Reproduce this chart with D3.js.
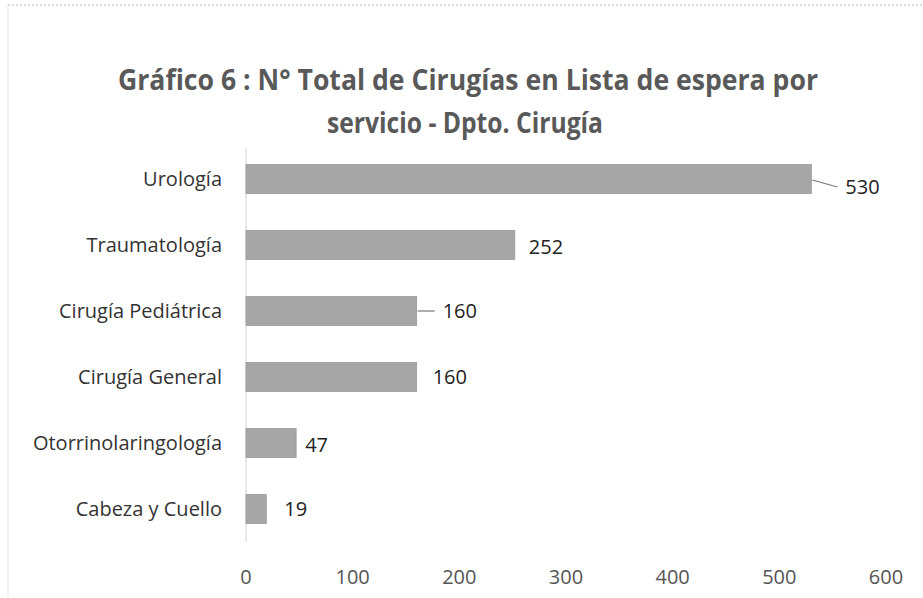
<!DOCTYPE html>
<html><head><meta charset="utf-8">
<script src="https://cdn.jsdelivr.net/npm/d3@7"></script>
<style>body{margin:0;background:#fff}svg{display:block}</style>
</head><body><svg id="c" width="923" height="598"></svg>
<script>
const categories = ["Urología","Traumatología","Cirugía Pediátrica","Cirugía General","Otorrinolaringología","Cabeza y Cuello"];
const values = [530,252,160,160,47,19];
const ticks = [0,100,200,300,400,500,600];
const titleLines = ["Gráfico 6 : N° Total de Cirugías en Lista de espera por","servicio - Dpto. Cirugía"];

const svg = d3.select("#c");
const font = "'Open Sans', 'DejaVu Sans', sans-serif";
// frame
svg.append("line").attr("x1",8).attr("x2",923).attr("y1",5).attr("y2",5).attr("stroke","#bbb").attr("stroke-dasharray","2,2");
svg.append("line").attr("x1",8).attr("x2",8).attr("y1",5).attr("y2",598).attr("stroke","#e4e4e4");

const x = d3.scaleLinear().domain([0,600]).range([246,886]);
const y = d3.scaleBand().domain(categories).range([146,542]).paddingInner(0.56).paddingOuter(0.28);

// title
svg.selectAll("text.title").data(titleLines).join("text").attr("class","title")
  .attr("x",(d,i)=>i===0?468:465).attr("y",(d,i)=>90+i*43).attr("text-anchor","middle")
  .attr("font-family",font).attr("font-weight","bold").attr("font-size",29).attr("fill","#595959")
  .attr("textLength",(d,i)=>i===0?700:276).attr("lengthAdjust","spacingAndGlyphs").text(d=>d);

// axis line
svg.append("line").attr("x1",x(0)).attr("x2",x(0)).attr("y1",148).attr("y2",542).attr("stroke","#d6d6d6");

// bars
svg.selectAll("rect.bar").data(values).join("rect").attr("class","bar")
  .attr("x",x(0)).attr("y",(d,i)=>y(categories[i])).attr("width",d=>x(d)-x(0)).attr("height",y.bandwidth())
  .attr("fill","#a6a6a6").attr("stroke","#999").attr("stroke-width",0.8);

// category labels
svg.selectAll("text.cat").data(categories).join("text").attr("class","cat")
  .attr("x",222).attr("y",d=>y(d)+y.bandwidth()/2).attr("dy","0.35em").attr("text-anchor","end")
  .attr("font-family",font).attr("font-size",20).attr("fill","#333").text(d=>d);

// value labels (manually offset as in the original)
const labDx = [34,14,26,16,9,18];
const labDy = [8,2,0,0,2,0];
const cy = i => y(categories[i]) + y.bandwidth()/2;
const lead = values.map((v,i)=>({v,i})).filter(d=>d.i===0||d.i===2);
svg.selectAll("line.lead").data(lead).join("line").attr("class","lead")
  .attr("x1",d=>x(d.v)+1).attr("x2",d=>x(d.v)+labDx[d.i]-8)
  .attr("y1",d=>cy(d.i)+(d.i===0?1:0)).attr("y2",d=>cy(d.i)+labDy[d.i])
  .attr("stroke","#777").attr("stroke-width",1.2);
svg.selectAll("text.val").data(values).join("text").attr("class","val")
  .attr("x",(d,i)=>x(d)+labDx[i]).attr("y",(d,i)=>cy(i)+labDy[i]).attr("dy","0.35em")
  .attr("font-family",font).attr("font-size",20).attr("fill","#222").text(d=>d);

// x ticks
svg.selectAll("text.tick").data(ticks).join("text").attr("class","tick")
  .attr("x",d=>x(d)).attr("y",577).attr("dy","0.35em").attr("text-anchor","middle")
  .attr("font-family",font).attr("font-size",20).attr("fill","#555").text(d=>d);
</script></body></html>
